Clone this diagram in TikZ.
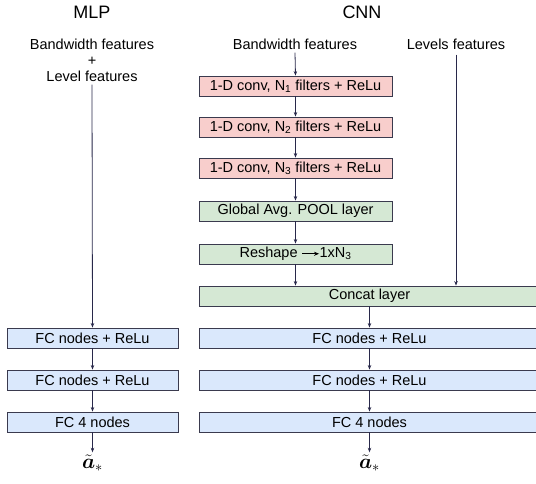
\documentclass[tikz,border=0pt]{standalone}
\usepackage{fontspec}
\setmainfont{Liberation Sans}
\usepackage{bm}
\usetikzlibrary{arrows.meta,calc}
\definecolor{pinkfill}{HTML}{F8CECC}
\definecolor{greenfill}{HTML}{D5E8D4}
\definecolor{bluefill}{HTML}{DAE8FC}
\definecolor{edgecol}{HTML}{3A3A4E}
\definecolor{arrcol}{HTML}{28284A}
\newcommand{\inarrow}{\tikz[baseline=0pt,x=1pt,y=1pt]\draw[line width=0.9pt,-{Stealth[length=5pt,width=4pt]}] (0,4) -- (17,4);}
\begin{document}
\begin{tikzpicture}[x=1pt,y=-1pt,
  box/.style={draw=edgecol,line width=0.9pt,minimum height=20pt,inner sep=0pt,
    font=\fontsize{14.5}{16}\selectfont},
  convbox/.style={box,fill=pinkfill,minimum width=193pt},
  poolbox/.style={box,fill=greenfill,minimum width=193pt},
  widebox/.style={box,minimum width=341pt},
  mlpbox/.style={box,fill=bluefill,minimum width=171pt},
  lbl/.style={font=\fontsize{14.5}{16}\selectfont,inner sep=0pt},
  ttl/.style={font=\fontsize{18}{20}\selectfont,inner sep=0pt},
  outl/.style={font=\fontsize{20}{22}\selectfont,inner sep=2pt},
  arr/.style={draw=arrcol,line width=0.8pt,-{Stealth[length=4.5pt,width=3.5pt]}}
]
\useasboundingbox (0,0) rectangle (536,483);
% titles
\node[ttl] (mlpT) at (92,12) {MLP};
\node[ttl] (cnnT) at (362,12) {CNN};
% MLP column
\node[lbl,align=center] (mlpIn) at (92,60) {Bandwidth features\\[0pt]+\\Level features};
\node[mlpbox] (m1) at (92.5,338) {FC nodes + ReLu};
\node[mlpbox] (m2) at (92.5,380) {FC nodes + ReLu};
\node[mlpbox] (m3) at (92.5,422) {FC 4 nodes};
\node[outl] (mo) at (92.5,463) {$\tilde{\bm{a}}_*$};
% CNN column
\node[lbl] (bw) at (295,44) {Bandwidth features};
\node[lbl] (lv) at (456,44) {Levels features};
\node[convbox] (c1) at (295.5,86) {1-D conv, N\textsubscript{1} filters + ReLu};
\node[convbox] (c2) at (295.5,127) {1-D conv, N\textsubscript{2} filters + ReLu};
\node[convbox] (c3) at (295.5,168) {1-D conv, N\textsubscript{3} filters + ReLu};
\node[poolbox] (gp) at (295.5,211) {Global Avg. POOL layer};
\node[poolbox] (rs) at (295.5,254) {Reshape \inarrow1xN\textsubscript{3}};
\node[widebox,fill=greenfill] (cc) at (369.5,296) {Concat layer};
\node[widebox,fill=bluefill] (f1) at (369.5,338) {FC nodes + ReLu};
\node[widebox,fill=bluefill] (f2) at (369.5,380) {FC nodes + ReLu};
\node[widebox,fill=bluefill] (f3) at (369.5,422) {FC 4 nodes};
\node[outl] (co) at (369.5,463) {$\tilde{\bm{a}}_*$};
% connector end points
\coordinate (mlpS) at ($(mlpIn.south)+(0,3)$);
\coordinate (bwS) at ($(bw.south)+(0,3)$);
\coordinate (lvS) at ($(lv.south)+(0,5)$);
% connectors
\draw[arr] (mlpS) -- (m1.north);
\draw[arr] (m1) -- (m2);
\draw[arr] (m2) -- (m3);
\draw[arr] (m3.south) -- (mo.north);
\draw[arr] (bwS) -- (c1.north);
\draw[arr] (c1) -- (c2);
\draw[arr] (c2) -- (c3);
\draw[arr] (c3) -- (gp);
\draw[arr] (gp) -- (rs);
\draw[arr] (rs.south) -- (rs.south |- cc.north);
\draw[arr] (lvS) -- (lvS |- cc.north);
\draw[arr] (cc.south) -- (f1.north);
\draw[arr] (f1) -- (f2);
\draw[arr] (f2) -- (f3);
\draw[arr] (f3.south) -- (co.north);
\end{tikzpicture}
\end{document}
